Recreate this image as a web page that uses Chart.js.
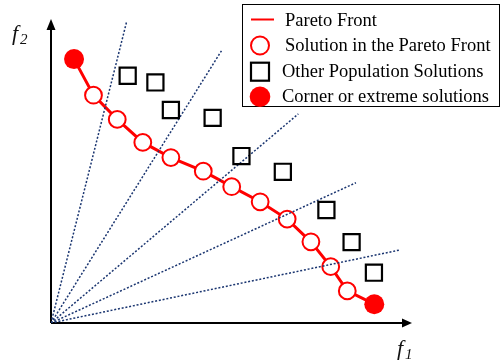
<!DOCTYPE html>
<html>
<head>
<meta charset="utf-8">
<script src="https://cdn.jsdelivr.net/npm/chart.js@4.4.1/dist/chart.umd.min.js"></script>
<style>
  html, body { margin: 0; padding: 0; background: #fff; }
</style>
</head>
<body>
<canvas id="myChart" width="503" height="364"></canvas>
<script>
// values in f1 / f2 units, both axes run 0..10
const frontF1 = [0.64, 1.18, 1.84, 2.55, 3.33, 4.23, 5.02, 5.81, 6.56, 7.22, 7.77, 8.23, 8.98];
const frontF2 = [8.71, 7.52, 6.72, 5.96, 5.46, 5.01, 4.50, 4.00, 3.43, 2.68, 1.86, 1.06, 0.62];
const otherF1 = [2.13, 2.90, 3.33, 4.49, 5.29, 6.44, 7.65, 8.35, 8.97];
const otherF2 = [8.16, 7.94, 7.03, 6.77, 5.51, 4.99, 3.73, 2.67, 1.66];
const rayF1 = [2.10, 4.76, 6.87, 8.47, 9.69];
const rayF2 = [9.94, 9.03, 6.90, 4.63, 2.41];
const legendLabels = ["Pareto Front", "Solution in the Pareto Front", "Other Population Solutions", "Corner or extreme solutions"];
const xTitle = ["f", "1"];
const yTitle = ["f", "2"];

const red = "#ff0000";
const navy = "#1a3570";
const serif = "'Liberation Serif', 'Times New Roman', serif";

const front = frontF1.map((x, i) => ({ x: x, y: frontF2[i] }));
const inner = front.slice(1, front.length - 1);
const corners = [front[0], front[front.length - 1]];
const others = otherF1.map((x, i) => ({ x: x, y: otherF2[i] }));

const rays = rayF1.map((x, i) => ({
  label: "ray" + i,
  data: [{ x: 0, y: 0 }, { x: x, y: rayF2[i] }],
  showLine: true,
  borderColor: navy,
  borderWidth: 1.5,
  borderDash: [2, 1.8],
  pointRadius: 0,
  order: 3
}));

// axes with arrow heads + f1 / f2 titles
const axesPlugin = {
  id: "axesPlugin",
  beforeDatasetsDraw(chart) {
    const ctx = chart.ctx;
    const xs = chart.scales.x, ys = chart.scales.y;
    const ox = xs.getPixelForValue(0), oy = ys.getPixelForValue(0);
    const tx = xs.getPixelForValue(10), ty = ys.getPixelForValue(10);
    ctx.save();
    ctx.strokeStyle = "#000";
    ctx.fillStyle = "#000";
    ctx.lineWidth = 2;
    ctx.beginPath();
    ctx.moveTo(ox, oy);
    ctx.lineTo(tx - 9, oy);
    ctx.moveTo(ox, oy);
    ctx.lineTo(ox, ty + 9);
    ctx.stroke();
    ctx.beginPath();
    ctx.moveTo(tx + 1, oy);
    ctx.lineTo(tx - 9, oy - 4.5);
    ctx.lineTo(tx - 9, oy + 4.5);
    ctx.closePath();
    ctx.fill();
    ctx.beginPath();
    ctx.moveTo(ox, ty - 1);
    ctx.lineTo(ox - 4.5, ty + 10);
    ctx.lineTo(ox + 4.5, ty + 10);
    ctx.closePath();
    ctx.fill();

    ctx.fillStyle = "#111";
    ctx.textBaseline = "alphabetic";
    ctx.textAlign = "left";
    ctx.font = "italic 22px " + serif;
    ctx.fillText(yTitle[0], 12, 40);
    ctx.fillText(xTitle[0], 397, 355);
    ctx.font = "italic 15px " + serif;
    ctx.fillText(yTitle[1], 20, 44);
    ctx.fillText(xTitle[1], 405, 359);
    ctx.restore();
  }
};

// boxed legend drawn over the plot
const legendPlugin = {
  id: "legendPlugin",
  afterDraw(chart) {
    const ctx = chart.ctx;
    ctx.save();
    ctx.fillStyle = "#fff";
    ctx.fillRect(242.5, 4.5, 257, 102);
    ctx.strokeStyle = "#000";
    ctx.lineWidth = 1;
    ctx.strokeRect(242.5, 4.5, 257, 102);

    const mx = 260;
    // line
    ctx.strokeStyle = red;
    ctx.lineWidth = 2;
    ctx.beginPath();
    ctx.moveTo(251, 19.5);
    ctx.lineTo(274, 19.5);
    ctx.stroke();
    // open circle
    ctx.fillStyle = "#fff";
    ctx.lineWidth = 2;
    ctx.beginPath();
    ctx.arc(mx, 45.5, 9, 0, Math.PI * 2);
    ctx.fill();
    ctx.stroke();
    // square
    ctx.strokeStyle = "#000";
    ctx.lineWidth = 2.2;
    ctx.strokeRect(mx - 9, 62.7, 18, 18);
    // filled circle
    ctx.fillStyle = red;
    ctx.beginPath();
    ctx.arc(mx, 96.8, 10.3, 0, Math.PI * 2);
    ctx.fill();

    ctx.fillStyle = "#000";
    ctx.font = "18.5px " + serif;
    ctx.textBaseline = "alphabetic";
    ctx.fillText(legendLabels[0], 285, 25.5);
    ctx.fillText(legendLabels[1], 285, 50.8);
    ctx.fillText(legendLabels[2], 282, 77.4);
    ctx.fillText(legendLabels[3], 282, 101.8);
    ctx.restore();
  }
};

const ctx = document.getElementById("myChart");
const myChart = new Chart(ctx, {
  type: "scatter",
  data: {
    datasets: [
      {
        label: legendLabels[3],
        data: corners,
        pointRadius: 10,
        pointBackgroundColor: red,
        pointBorderColor: red,
        pointBorderWidth: 0,
        order: 1
      },
      {
        label: legendLabels[2],
        data: others,
        pointStyle: "rect",
        pointRadius: 11.4,
        pointBackgroundColor: "rgba(0,0,0,0)",
        pointBorderColor: "#000",
        pointBorderWidth: 2.2,
        order: 2
      },
      ...rays,
      {
        label: legendLabels[1],
        data: inner,
        pointRadius: 8.4,
        pointBackgroundColor: "#fff",
        pointBorderColor: red,
        pointBorderWidth: 2,
        order: 4
      },
      {
        label: legendLabels[0],
        data: front,
        showLine: true,
        borderColor: red,
        borderWidth: 3,
        pointRadius: 0,
        order: 5
      }
    ]
  },
  options: {
    responsive: false,
    animation: false,
    devicePixelRatio: 1,
    layout: { autoPadding: false, padding: { left: 51, right: 92, top: 20, bottom: 41 } },
    scales: {
      x: { type: "linear", min: 0, max: 10, display: false },
      y: { type: "linear", min: 0, max: 10, display: false }
    },
    plugins: {
      legend: { display: false },
      tooltip: { enabled: false }
    },
    elements: { point: { hoverRadius: 0 } }
  },
  plugins: [axesPlugin, legendPlugin]
});
</script>
</body>
</html>
